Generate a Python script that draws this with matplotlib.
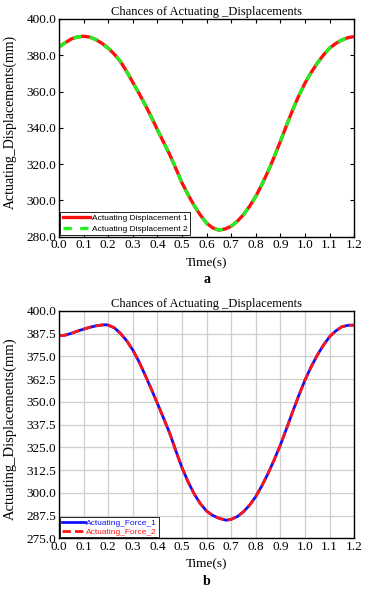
import matplotlib
matplotlib.use("Agg")
import matplotlib.pyplot as plt

plt.rcParams['font.family'] = ['Liberation Serif', 'DejaVu Serif']

# panel a: actuating displacements (mm) vs time (s)
time_a = [0.0, 0.025, 0.05, 0.075, 0.1, 0.125, 0.15, 0.175, 0.2, 0.225, 0.25, 0.275,
          0.3, 0.325, 0.35, 0.375, 0.4, 0.425, 0.45, 0.475, 0.5, 0.525, 0.55, 0.575,
          0.6, 0.625, 0.65, 0.675, 0.7, 0.725, 0.75, 0.775, 0.8, 0.825, 0.85, 0.875,
          0.9, 0.925, 0.95, 0.975, 1.0, 1.025, 1.05, 1.075, 1.1, 1.125, 1.15, 1.175, 1.2]
disp_a1 = [384.6, 386.9, 389.0, 390.1, 390.5, 390.0, 388.6, 386.5, 383.9, 380.5, 376.5, 371.0,
           365.0, 359.0, 352.7, 346.0, 338.9, 332.0, 325.2, 317.5, 309.6, 303.0, 297.0, 291.8,
           287.4, 284.8, 283.6, 284.2, 285.7, 288.5, 292.1, 296.8, 302.2, 308.8, 316.0, 324.0,
           332.5, 341.3, 349.9, 357.7, 364.6, 370.5, 375.6, 380.1, 383.9, 386.5, 388.4, 389.7, 390.3]
disp_a2 = [384.6, 386.9, 389.0, 390.1, 390.5, 390.0, 388.6, 386.5, 383.9, 380.5, 376.5, 371.0,
           365.0, 359.0, 352.7, 346.0, 338.9, 332.0, 325.2, 317.5, 309.6, 303.0, 297.0, 291.8,
           287.4, 284.8, 283.6, 284.2, 285.7, 288.5, 292.1, 296.8, 302.2, 308.8, 316.0, 324.0,
           332.5, 341.3, 349.9, 357.7, 364.6, 370.5, 375.6, 380.1, 383.9, 386.5, 388.4, 389.7, 390.3]

# panel b
time_b = [0.0, 0.025, 0.05, 0.075, 0.1, 0.125, 0.15, 0.175, 0.19, 0.2, 0.225, 0.25, 0.275,
          0.3, 0.325, 0.35, 0.375, 0.4, 0.425, 0.45, 0.475, 0.5, 0.525, 0.55, 0.575,
          0.6, 0.625, 0.65, 0.68, 0.7, 0.725, 0.75, 0.775, 0.8, 0.825, 0.85, 0.875,
          0.9, 0.925, 0.95, 0.975, 1.0, 1.025, 1.05, 1.075, 1.1, 1.125, 1.15, 1.175, 1.2]
force_b1 = [386.2, 386.6, 387.6, 388.8, 389.9, 390.9, 391.7, 392.2, 392.3, 392.1, 390.6, 387.5, 383.5,
            378.4, 372.0, 364.7, 357.0, 349.1, 341.0, 332.7, 323.0, 313.8, 306.0, 299.3, 294.0,
            290.0, 287.6, 286.1, 285.0, 285.5, 287.0, 289.7, 293.3, 298.0, 304.0, 310.7, 318.2,
            326.3, 335.3, 344.6, 353.5, 361.9, 369.2, 375.6, 381.1, 385.7, 388.9, 391.2, 392.0, 392.1]
force_b2 = list(force_b1)

x_ticks = [0.0, 0.1, 0.2, 0.3, 0.4, 0.5, 0.6, 0.7, 0.8, 0.9, 1.0, 1.1, 1.2]
y_ticks_a = [280.0, 300.0, 320.0, 340.0, 360.0, 380.0, 400.0]
y_ticks_b = [275.0, 287.5, 300.0, 312.5, 325.0, 337.5, 350.0, 362.5, 375.0, 387.5, 400.0]

fig = plt.figure(figsize=(3.67, 5.93), dpi=100)
ax1 = fig.add_axes([0.161, 0.601, 0.804, 0.367])
ax2 = fig.add_axes([0.161, 0.092, 0.804, 0.384])


def style(ax, yt, ylab_size, ylab_y):
    ax.set_xlim(0, 1.2)
    ax.set_ylim(yt[0], yt[-1])
    ax.set_xticks(x_ticks)
    ax.set_xticklabels([f"{v:.1f}" for v in x_ticks])
    ax.set_yticks(yt)
    ax.set_yticklabels([f"{v:.1f}" for v in yt])
    ax.tick_params(direction='in', top=True, right=True, length=3, width=0.8,
                   labelsize=9.5, pad=2)
    for s in ax.spines.values():
        s.set_linewidth(1.0)
    ax.set_xlabel("Time(s)", fontsize=9.5, labelpad=4)
    ax.set_ylabel("Actuating_Displacements(mm)", fontsize=ylab_size)
    ax.yaxis.set_label_coords(-0.142, ylab_y)
    ax.set_title("Chances of Actuating _Displacements", fontsize=9, pad=3)


# panel a
ax1.plot(time_a, disp_a1, color='#ff1010', lw=2.4, solid_joinstyle='round',
         label='Actuating Displacement 1')
ax1.plot(time_a, disp_a2, color='#22ee22', lw=2.4, dashes=(2.5, 2.5),
         dash_joinstyle='round', label='Actuating Displacement 2')
style(ax1, y_ticks_a, 10, 0.525)
leg1 = ax1.legend(loc='lower left', prop={'family': 'Liberation Sans', 'size': 6},
                  frameon=True, fancybox=False, edgecolor='black', framealpha=1,
                  borderpad=0.3, handlelength=3.2, handletextpad=0.3,
                  labelspacing=0.35, borderaxespad=0.15)
leg1.get_frame().set_linewidth(0.6)
ax1.text(0.5, -0.197, "a", transform=ax1.transAxes, ha='center', va='center',
         fontsize=10, fontweight='bold')

# panel b
ax2.grid(True, color='#cfcfcf', lw=0.9)
ax2.set_axisbelow(True)
ax2.plot(time_b, force_b1, color='#1010ff', lw=2.0, solid_joinstyle='round',
         label='Actuating_Force_1')
ax2.plot(time_b, force_b2, color='#ff1515', lw=2.0, dashes=(3, 1.5),
         dash_joinstyle='round', label='Actuating_Force_2')
style(ax2, y_ticks_b, 10.5, 0.48)
ax2.tick_params(top=False, right=False, length=0)
leg2 = ax2.legend(loc='lower left', prop={'family': 'Liberation Sans', 'size': 6},
                  frameon=True, fancybox=False, edgecolor='black', framealpha=1,
                  borderpad=0.2, handlelength=2.8, handletextpad=0.1,
                  labelspacing=0.1, borderaxespad=0.15, labelcolor='linecolor')
leg2.get_frame().set_linewidth(0.6)
ax2.text(0.5, -0.19, "b", transform=ax2.transAxes, ha='center', va='center',
         fontsize=10, fontweight='bold')

fig.savefig("out.png", dpi=100)
